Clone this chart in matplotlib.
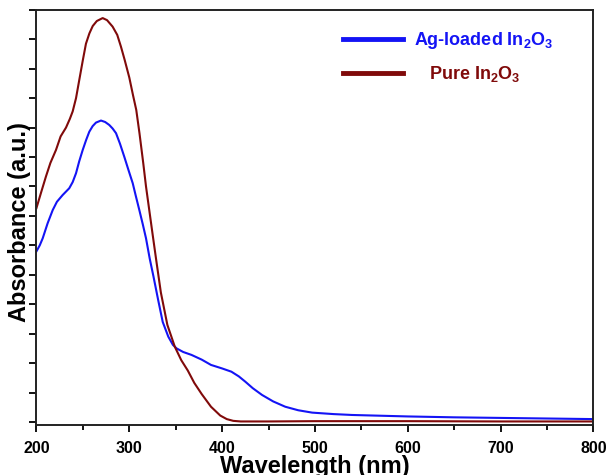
import numpy as np
import matplotlib
matplotlib.use("Agg")
import matplotlib.pyplot as plt

plt.rcParams['font.family'] = ['Liberation Sans', 'DejaVu Sans']
plt.rcParams['mathtext.fontset'] = 'custom'
plt.rcParams['mathtext.rm'] = 'Liberation Sans:bold'
plt.rcParams['mathtext.bf'] = 'Liberation Sans:bold'
plt.rcParams['mathtext.default'] = 'bf'

# === data ===
wl_pure = [200, 205, 210.2, 215, 221, 226, 231.8, 236, 239, 242.6, 246, 250, 253.3,
           257, 260.6, 265, 271.3, 276, 282, 287, 291, 295, 300, 304, 307.5, 311,
           315, 318, 321.5, 325, 329, 334, 341, 349, 356, 363, 370, 378, 388, 398,
           405, 412, 420, 450, 500, 600, 700, 800]
abs_pure = [7.27, 7.8, 8.34, 8.8, 9.24, 9.7, 10.0, 10.3, 10.55, 11.0, 11.6, 12.3, 12.85,
            13.2, 13.45, 13.62, 13.72, 13.65, 13.43, 13.15, 12.75, 12.3, 11.7, 11.1,
            10.6, 9.8, 8.8, 8.0, 7.2, 6.4, 5.5, 4.4, 3.3, 2.56, 2.1, 1.75, 1.33, 0.95,
            0.52, 0.22, 0.1, 0.04, 0.02, 0.02, 0.03, 0.03, 0.02, 0.02]

wl_ag = [200, 203.5, 206.7, 212, 217.5, 222, 228.2, 235.3, 239, 242.6, 246, 249.8,
         253.5, 256.9, 260.5, 264.1, 269.5, 274, 278.4, 282, 285.7, 290, 294.6, 299,
         303.7, 307, 310.8, 314.5, 318, 322, 326, 331, 336, 342, 347, 351, 358, 367,
         378, 388, 400, 410, 418, 425, 433, 443, 455, 468, 482, 497, 520, 540, 600,
         650, 700, 750, 800]
abs_ag = [5.8, 6.0, 6.24, 6.75, 7.2, 7.48, 7.71, 7.94, 8.15, 8.45, 8.85, 9.24, 9.58,
          9.86, 10.05, 10.17, 10.24, 10.19, 10.09, 9.97, 9.81, 9.45, 9.01, 8.57, 8.11,
          7.68, 7.2, 6.72, 6.24, 5.55, 4.95, 4.16, 3.4, 2.9, 2.62, 2.5, 2.38, 2.28,
          2.12, 1.94, 1.82, 1.71, 1.55, 1.37, 1.15, 0.92, 0.7, 0.52, 0.4, 0.32, 0.27,
          0.24, 0.19, 0.16, 0.14, 0.12, 0.1]

labels = ['Ag-loaded In$_2$O$_3$', '   Pure In$_2$O$_3$']
colors = ['#1414f5', '#800a0a']
x_ticks = [200, 300, 400, 500, 600, 700, 800]

fig = plt.figure(figsize=(6.08, 4.75), dpi=100)
ax = fig.add_axes([0.060, 0.1053, 0.916, 0.874])

ax.plot(wl_ag, abs_ag, color=colors[0], lw=1.5, label=labels[0],
        solid_joinstyle='round')
ax.plot(wl_pure, abs_pure, color=colors[1], lw=1.5, label=labels[1],
        solid_joinstyle='round')

ax.set_xlim(200, 800)
ax.set_ylim(-0.1, 14.0)
ax.set_xticks(x_ticks)
ax.set_xticks(np.arange(250, 800, 100), minor=True)
ax.set_yticks(np.arange(0, 15, 1))
ax.set_yticklabels([])
ax.tick_params(axis='both', which='major', direction='out', length=5, width=1.3,
               labelsize=11.5, pad=6.5)
ax.tick_params(axis='x', which='minor', direction='out', length=3.5, width=1.3)
for lab in ax.get_xticklabels():
    lab.set_fontweight('bold')
for s in ax.spines.values():
    s.set_linewidth(1.4)
    s.set_color('#222222')

ax.set_xlabel('Wavelength (nm)', fontsize=17, fontweight='bold', labelpad=-0.5)
ax.set_ylabel('Absorbance (a.u.)', fontsize=17, fontweight='bold')
ax.yaxis.set_label_coords(-0.010, 0.488)

leg = ax.legend(loc='upper left', bbox_to_anchor=(0.522, 0.99), frameon=False,
                fontsize=13, handlelength=3.3, handletextpad=0.6, labelspacing=0.7,
                labelcolor='linecolor')
for line in leg.get_lines():
    line.set_linewidth(3.5)
for t in leg.get_texts():
    t.set_fontweight('bold')

fig.savefig('out.png', dpi=100)
